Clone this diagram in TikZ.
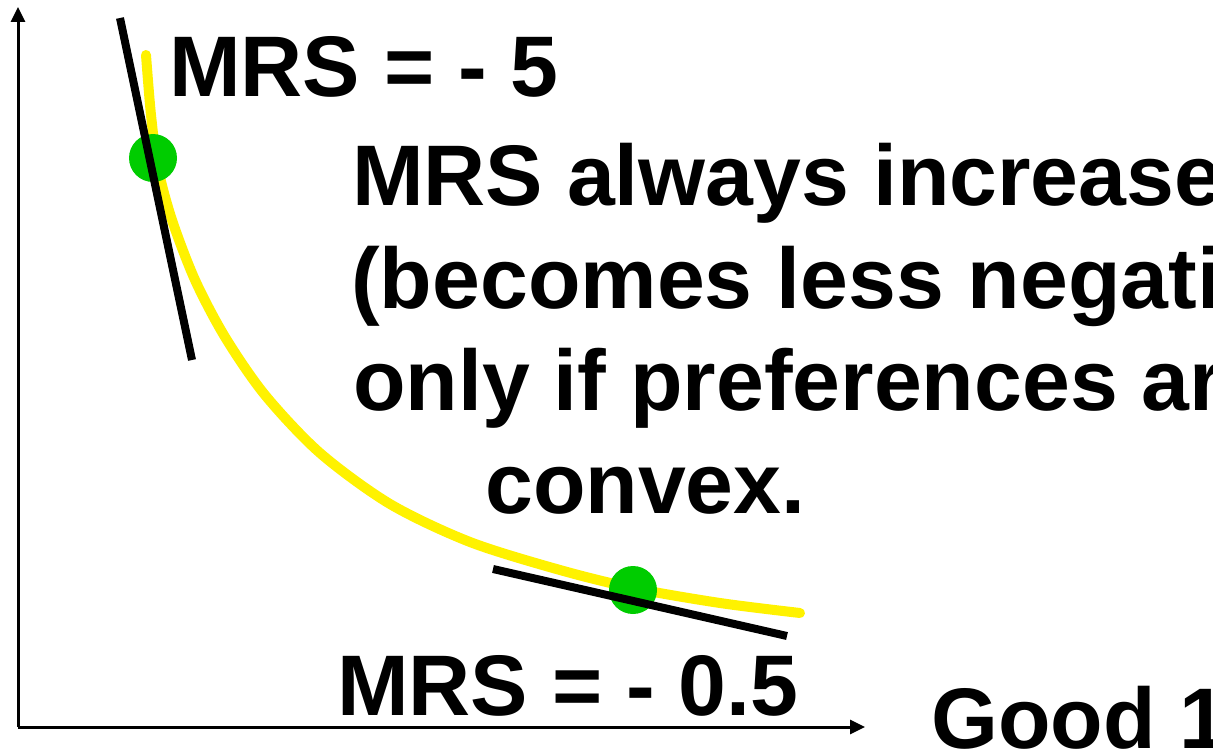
\documentclass[tikz,border=0pt]{standalone}
\usepackage{fontspec}
\setmainfont{Liberation Sans}
\usepackage{tikz}
\usetikzlibrary{arrows.meta}

\definecolor{dotgreen}{RGB}{0,204,0}

\begin{document}
\begin{tikzpicture}[
        x=1pt, y=-1pt,
        axis/.style = {-{Triangle[length=15pt, width=14pt]}, line width=3pt},
        curve/.style = {line width=10pt, yellow, line cap=round},
        tangent/.style = {line width=8pt},
        dot/.style = {circle, fill=dotgreen, minimum size=48pt, inner sep=0pt},
        label/.style = {anchor=base west, inner sep=0pt, font=\bfseries\fontsize{86}{103}\selectfont}
    ]
    \useasboundingbox (0,0) rectangle (1213,752);
    \clip (0,0) rectangle (1213,752);

    % axes
    \coordinate (origin) at (18,727);
    \coordinate (ytip) at (18,7);
    \coordinate (xtip) at (865,727);
    \draw[axis] (origin) -- (ytip);
    \draw[axis] (origin) -- (xtip);

    % indifference curve
    \draw[curve] plot[smooth] coordinates {(146,55) (151,115) (158,168) (172,220) (195,280) (225,337) (265,395) (320,453) (390,504) (470,542) (560,570) (633,588) (720,603) (800,613)};

    % points on the curve
    \node[dot] (steep) at (153,158) {};
    \node[dot] (flat) at (633,590) {};

    % tangents
    \coordinate (steeptop) at (120,18);
    \coordinate (steepend) at (192,360);
    \coordinate (flattop) at (493,569);
    \coordinate (flatend) at (787,636);
    \draw[tangent] (steeptop) -- (steepend);
    \draw[tangent] (flattop) -- (flatend);

    % labels
    \node[label] (mrsfive) at (169,96) {MRS = - 5};
    \node[label] (note1) at (352,205) {MRS always increases};
    \node[label] (note2) at (351,308) {(becomes less negative)};
    \node[label] (note3) at (353,410) {only if preferences are};
    \node[label] (note4) at (485,513) {convex.};
    \node[label] (mrshalf) at (337,715) {MRS = - 0.5};
    \node[label] (good) at (931,748) {Good 1};
\end{tikzpicture}
\end{document}
